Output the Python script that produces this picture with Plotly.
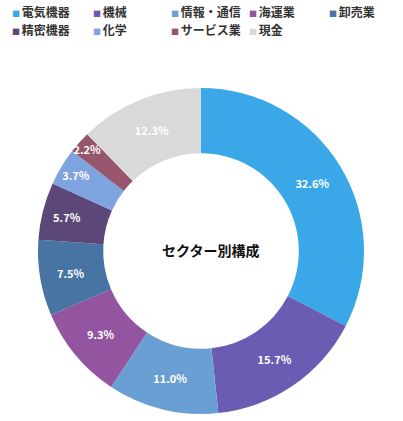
import plotly.graph_objects as go

# sector breakdown (percent)
sectors = ["電気機器", "機械", "情報・通信", "海運業", "卸売業",
           "精密機器", "化学", "サービス業", "現金"]
shares = [32.6, 15.7, 11.0, 9.3, 7.5, 5.7, 3.7, 2.2, 12.3]
colors = ["#3aa8e8", "#6b5cb3", "#6a9fd3", "#9354a0", "#4774a3",
          "#5b4878", "#7fa3de", "#98566e", "#d9d9d9"]

W, H = 403, 421
FONT = "Noto Sans CJK JP"

fig = go.Figure(go.Pie(
    labels=sectors,
    values=shares,
    marker=dict(colors=colors, line=dict(width=0)),
    hole=0.6,
    sort=False,
    direction="clockwise",
    rotation=0,
    texttemplate="%{value:.1f}%",
    textposition="inside",
    insidetextorientation="horizontal",
    textfont=dict(color="white", size=11, family=FONT, weight="bold"),
    domain=dict(x=[38 / W, 364 / W], y=[1 - 414 / H, 1 - 88 / H]),
    showlegend=False,
))

# centre caption
fig.add_annotation(
    text="<b>セクター別構成</b>", x=211 / W, y=1 - 250 / H,
    xref="paper", yref="paper", showarrow=False,
    font=dict(size=14, color="#111", family=FONT),
)

# legend drawn as a 5-column grid (pixel positions of each column / row)
col_x = [10, 91, 169, 247, 327]
row_y = [12, 29]
for i, (name, c) in enumerate(zip(sectors, colors)):
    px = col_x[i % 5]
    py = row_y[i // 5]
    fig.add_annotation(
        text=f"<span style='color:{c};font-size:8px'>■ </span><b>{name}</b>",
        x=px / W, y=1 - py / H, xref="paper", yref="paper",
        xanchor="left", yanchor="middle", showarrow=False,
        font=dict(size=12, color="#333", family=FONT),
    )

fig.update_layout(
    width=W, height=H,
    margin=dict(l=0, r=0, t=0, b=0),
    paper_bgcolor="white",
    font=dict(family=FONT),
    uniformtext=dict(minsize=11, mode="show"),
)

# drop the browser's default body margin so the figure sits at 0,0
fig.write_html("out.html", config={"displayModeBar": False},
               post_script="document.body.style.margin='0';")
